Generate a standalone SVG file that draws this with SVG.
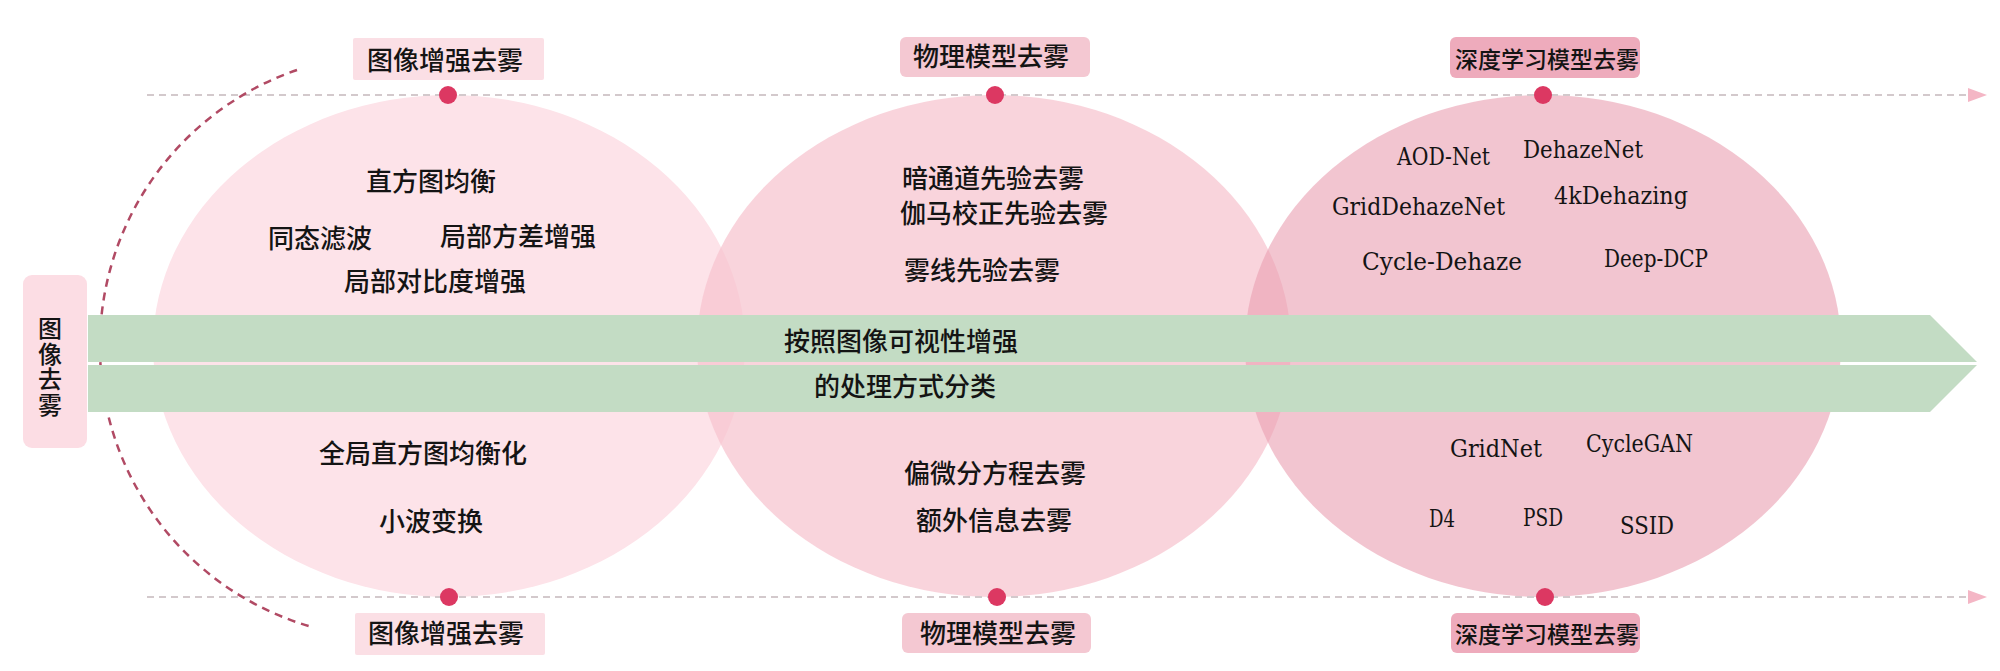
<svg xmlns="http://www.w3.org/2000/svg" width="2000" height="671" viewBox="0 0 2000 671">
<defs>
<style>
.cjk{font-family:"Noto Sans CJK SC","Noto Sans",sans-serif;font-size:26px;font-weight:500;fill:#141414}
.vt{font-size:24px;writing-mode:vertical-rl;letter-spacing:1.5px}
.lat{font-family:"DejaVu Serif","Liberation Serif",serif;font-size:25px;fill:#141414}
.sm{font-size:23px}
.tl{stroke:#d3c9cc;stroke-width:2;stroke-dasharray:7 5;fill:none}
.arc{stroke:#b14a64;stroke-width:2.5;stroke-dasharray:8 6;fill:none}
.dot{fill:#dc3862}
.lb1{fill:#fbdfe5}
.lb2{fill:#f4c8d2}
.lb3{fill:#eeabbc}
.band{fill:#c3dcc4}
</style>
</defs>
<rect width="2000" height="671" fill="#ffffff"/>

<g id="ellipses">
<ellipse id="e1" cx="449" cy="346" rx="296" ry="251" fill="#fde3e9"/>
<ellipse id="e2" cx="994" cy="346" rx="297" ry="251" fill="#f6c4cf" fill-opacity="0.72"/>
<ellipse id="e3" cx="1543" cy="346" rx="298" ry="251" fill="#ea9fb1" fill-opacity="0.6"/>
</g>

<g id="connectors">
<line class="tl" x1="147" y1="95" x2="1968" y2="95"/>
<polygon points="1968,88 1987,95 1968,102" fill="#f4b6c5"/>
<line class="tl" x1="147" y1="597" x2="1968" y2="597"/>
<polygon points="1968,590 1987,597 1968,604" fill="#f4b6c5"/>
<path class="arc" d="M 297 70 A 292 292 0 0 0 312 627"/>
</g>

<g id="band">
<polygon class="band" points="88,315 1930,315 1977,362 88,362"/>
<polygon class="band" points="88,365 1977,365 1930,412 88,412"/>
<text class="cjk" x="784" y="351">按照图像可视性增强</text>
<text class="cjk" x="814" y="396">的处理方式分类</text>
</g>

<g id="root">
<rect x="23" y="275" width="64" height="173" rx="9" fill="#fcdde4"/>
<text class="cjk vt" x="50" y="316">图像去雾</text>
</g>

<g id="dots">
<circle class="dot" cx="448" cy="95" r="9"/>
<circle class="dot" cx="995" cy="95" r="9"/>
<circle class="dot" cx="1543" cy="95" r="9"/>
<circle class="dot" cx="449" cy="597" r="9"/>
<circle class="dot" cx="997" cy="597" r="9"/>
<circle class="dot" cx="1545" cy="597" r="9"/>
</g>

<g id="label-enhance-top">
<rect class="lb1" x="353" y="38" width="191" height="42" rx="2"/>
<text class="cjk" x="367" y="70">图像增强去雾</text>
</g>
<g id="label-physical-top">
<rect class="lb2" x="900" y="37" width="190" height="40" rx="6"/>
<text class="cjk" x="913" y="66">物理模型去雾</text>
</g>
<g id="label-deep-top">
<rect class="lb3" x="1450" y="37" width="190" height="41" rx="6"/>
<text class="cjk sm" x="1455" y="68">深度学习模型去雾</text>
</g>
<g id="label-enhance-bottom">
<rect class="lb1" x="355" y="613" width="190" height="42" rx="2"/>
<text class="cjk" x="368" y="643">图像增强去雾</text>
</g>
<g id="label-physical-bottom">
<rect class="lb2" x="902" y="613" width="189" height="40" rx="6"/>
<text class="cjk" x="920" y="643">物理模型去雾</text>
</g>
<g id="label-deep-bottom">
<rect class="lb3" x="1451" y="613" width="189" height="40" rx="6"/>
<text class="cjk sm" x="1455" y="643">深度学习模型去雾</text>
</g>

<g id="enhance-methods">
<text class="cjk" x="366" y="191">直方图均衡</text>
<text class="cjk" x="268" y="248">同态滤波</text>
<text class="cjk" x="440" y="246">局部方差增强</text>
<text class="cjk" x="344" y="291">局部对比度增强</text>
<text class="cjk" x="319" y="463">全局直方图均衡化</text>
<text class="cjk" x="379" y="531">小波变换</text>
</g>

<g id="physical-methods">
<text class="cjk" x="902" y="188">暗通道先验去雾</text>
<text class="cjk" x="900" y="223">伽马校正先验去雾</text>
<text class="cjk" x="904" y="280">雾线先验去雾</text>
<text class="cjk" x="904" y="483">偏微分方程去雾</text>
<text class="cjk" x="916" y="530">额外信息去雾</text>
</g>

<g id="deep-methods">
<text class="lat" x="1397" y="165" textLength="93" lengthAdjust="spacingAndGlyphs">AOD-Net</text>
<text class="lat" x="1523" y="158" textLength="120" lengthAdjust="spacingAndGlyphs">DehazeNet</text>
<text class="lat" x="1332" y="215" textLength="173" lengthAdjust="spacingAndGlyphs">GridDehazeNet</text>
<text class="lat" x="1554" y="204" textLength="134" lengthAdjust="spacingAndGlyphs">4kDehazing</text>
<text class="lat" x="1362" y="270" textLength="160" lengthAdjust="spacingAndGlyphs">Cycle-Dehaze</text>
<text class="lat" x="1604" y="267" textLength="104" lengthAdjust="spacingAndGlyphs">Deep-DCP</text>
<text class="lat" x="1450" y="457" textLength="92" lengthAdjust="spacingAndGlyphs">GridNet</text>
<text class="lat" x="1586" y="452" textLength="107" lengthAdjust="spacingAndGlyphs">CycleGAN</text>
<text class="lat" x="1429" y="527" textLength="26" lengthAdjust="spacingAndGlyphs">D4</text>
<text class="lat" x="1523" y="526" textLength="40" lengthAdjust="spacingAndGlyphs">PSD</text>
<text class="lat" x="1620" y="534" textLength="54" lengthAdjust="spacingAndGlyphs">SSID</text>
</g>
</svg>
